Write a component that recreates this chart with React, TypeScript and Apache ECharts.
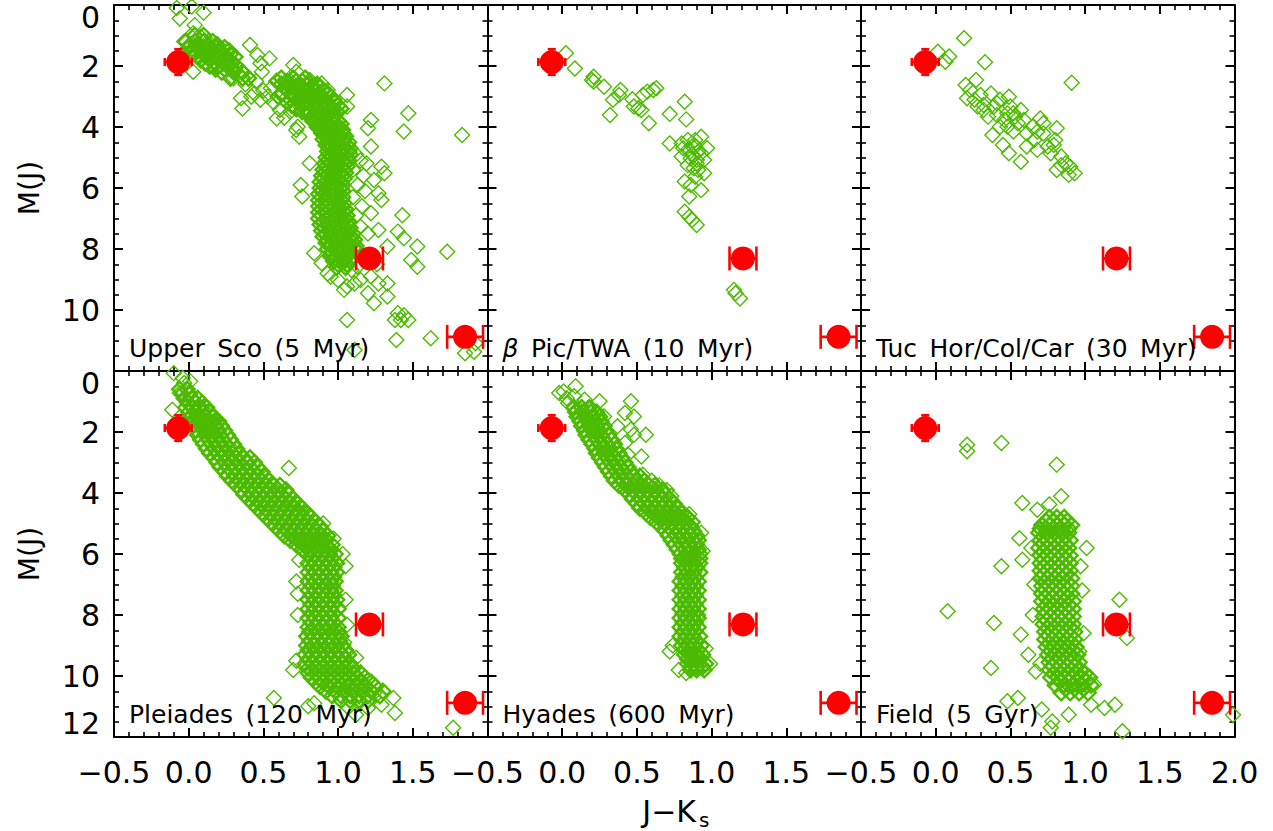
import React, { useEffect, useRef } from "react";
import * as echarts from "echarts";

// ---------------- data ----------------
const panelNames = [
  "Upper Sco (5 Myr)",
  "β Pic/TWA (10 Myr)",
  "Tuc Hor/Col/Car (30 Myr)",
  "Pleiades (120 Myr)",
  "Hyades (600 Myr)",
  "Field (5 Gyr)",
];

// reference objects (red), repeated in every panel
const refX = [-0.07, 1.21, 1.85];
const refY = [1.87, 8.31, 10.88];
const refErrX = [0.09, 0.09, 0.12];
const refErrY = [0.42, 0, 0];

// Upper Sco: scattered members [J-Ks, M(J)]
const upperScoPts = [
  [-0.08, 0.1], [0.02, 0.05], [0.1, 0.25], [-0.06, 0.44], [0.04, 0.66], [0.03, 0.93], [0.08, 1.04], [0.13, 1.2], [0.03, 2.19], [-0.03, 1.2],
  [0.41, 1.31], [0.46, 1.64], [0.54, 1.75], [0.48, 1.91], [0.49, 2.19], [0.35, 3.06], [0.36, 3.39], [0.42, 3.01], [0.48, 3.11], [0.55, 2.73],
  [0.59, 3.72], [0.7, 1.97], [0.72, 2.19], [0.65, 2.51], [0.66, 3.01], [0.61, 3.44], [0.73, 3.99], [0.74, 4.32], [0.81, 2.46], [0.84, 2.68],
  [0.89, 2.57], [0.93, 2.79], [1.06, 2.95], [1.06, 3.33], [1.31, 2.57], [1.47, 3.55], [1.44, 4.15], [1.22, 3.77], [1.2, 4.04], [1.83, 4.26],
  [1.22, 4.64], [1.29, 5.3], [1.31, 5.52], [1.24, 5.74], [1.27, 6.17], [1.29, 6.39], [1.22, 6.83], [1.15, 7.27], [1.2, 7.49], [1.27, 7.38],
  [1.33, 7.92], [1.43, 6.89], [1.4, 7.43], [1.44, 7.65], [1.53, 7.92], [1.49, 8.36], [1.53, 8.58], [1.73, 8.09],
  [0.81, 5.19], [0.75, 5.9], [0.76, 6.28], [0.72, 4.1],
  [0.93, 8.8], [1.0, 9.02], [1.06, 9.23], [1.04, 9.34], [1.11, 9.13], [1.2, 9.45], [1.27, 9.13], [1.33, 9.13], [1.24, 9.78], [1.33, 9.56],
  [1.4, 10.11], [1.44, 10.17], [1.38, 10.33], [1.42, 10.33], [1.47, 10.33], [1.06, 10.33], [1.39, 10.98], [1.62, 10.93], [1.11, 11.31],
  [1.85, 11.42], [1.91, 11.37], [1.92, 11.09],
  [1.09, 8.69], [1.15, 9.02], [1.13, 8.58], [0.95, 8.91], [0.84, 8.14], [0.89, 8.47],
  [1.12, 4.9], [1.15, 5.1], [1.1, 5.4], [1.17, 5.6], [1.13, 5.9], [1.18, 6.1], [1.1, 6.3], [1.16, 6.6], [1.12, 6.9], [1.19, 5.2],
  [1.08, 7.6], [1.12, 8.0], [1.17, 8.3], [1.22, 8.9], [1.26, 8.5],
  [0.38, 2.6], [0.45, 2.5], [0.5, 2.8], [0.53, 3.0], [0.57, 3.2], [0.44, 2.9], [0.3, 2.4], [0.62, 2.9], [0.68, 3.5], [0.64, 3.7],
];
// Upper Sco dense sequence: rows of [M(J), J-Ks, J-Ks, ...]
const upperScoRows = [
  [1.0, 0.04, 0.1], [1.2, -0.02, 0.04, 0.1, 0.16], [1.3, 0.01, 0.07, 0.13, 0.19], [1.4, 0.0, 0.06, 0.12, 0.18, 0.24],
  [1.5, 0.03, 0.09, 0.15, 0.21, 0.27], [1.6, 0.04, 0.1, 0.16, 0.22, 0.28], [1.7, 0.07, 0.13, 0.19, 0.25, 0.31],
  [1.8, 0.08, 0.14, 0.2, 0.26], [1.9, 0.11, 0.17, 0.23, 0.29], [2.0, 0.14, 0.2, 0.26, 0.32], [2.1, 0.18, 0.24, 0.3],
  [2.2, 0.22, 0.3, 0.36], [2.4, 0.28, 0.36, 0.4, 0.62, 0.7, 0.78], [2.5, 0.59, 0.66, 0.72, 0.76],
  [2.6, 0.62, 0.68, 0.74, 0.8, 0.86], [2.7, 0.64, 0.7, 0.76, 0.82, 0.88], [2.8, 0.66, 0.72, 0.78, 0.84, 0.9],
  [2.9, 0.63, 0.69, 0.75, 0.81, 0.87, 0.93], [3.0, 0.6, 0.7, 0.76, 0.82, 0.88, 0.95], [3.1, 0.68, 0.73, 0.79, 0.85, 0.91, 0.97],
  [3.2, 0.66, 0.74, 0.8, 0.86, 0.92, 0.98], [3.3, 0.69, 0.76, 0.82, 0.88, 0.94, 1.0], [3.4, 0.72, 0.78, 0.84, 0.9, 0.96, 1.02],
  [3.5, 0.76, 0.81, 0.87, 0.93, 0.99], [3.6, 0.8, 0.86, 0.92, 0.98], [3.7, 0.84, 0.9, 0.96], [3.8, 0.83, 0.89, 0.95, 1.0],
  [3.9, 0.86, 0.92, 0.97, 1.02], [4.0, 0.86, 0.91, 0.96, 1.01], [4.1, 0.89, 0.94, 0.99, 1.03], [4.2, 0.89, 0.93, 0.98, 1.03],
  [4.3, 0.91, 0.96, 1.01, 1.05], [4.4, 0.9, 0.95, 1.0, 1.04], [4.5, 0.93, 0.98, 1.03, 1.07], [4.6, 0.92, 0.96, 1.01, 1.06],
  [4.7, 0.94, 0.99, 1.04, 1.08], [4.8, 0.93, 0.97, 1.02, 1.07], [4.9, 0.94, 0.99, 1.04, 1.08], [5.0, 0.92, 0.96, 1.01, 1.06],
  [5.1, 0.93, 0.98, 1.03, 1.07], [5.2, 0.91, 0.95, 1.0, 1.05], [5.3, 0.92, 0.97, 1.02, 1.06], [5.4, 0.9, 0.94, 0.99, 1.04],
  [5.5, 0.91, 0.96, 1.01, 1.05], [5.6, 0.89, 0.93, 0.98, 1.03], [5.7, 0.9, 0.95, 1.0, 1.04], [5.8, 0.88, 0.92, 0.97, 1.02],
  [5.9, 0.9, 0.94, 0.99, 1.03], [6.0, 0.88, 0.92, 0.97, 1.02], [6.1, 0.89, 0.94, 0.99, 1.03], [6.2, 0.87, 0.91, 0.96, 1.01],
  [6.3, 0.89, 0.94, 0.99, 1.03], [6.4, 0.87, 0.92, 0.97, 1.02], [6.5, 0.89, 0.94, 0.99, 1.04], [6.6, 0.87, 0.92, 0.97, 1.03],
  [6.7, 0.89, 0.95, 1.0, 1.05], [6.8, 0.87, 0.92, 0.98, 1.04], [6.9, 0.89, 0.95, 1.01, 1.06], [7.0, 0.87, 0.93, 0.99, 1.05],
  [7.1, 0.9, 0.96, 1.02, 1.07], [7.2, 0.88, 0.94, 1.0, 1.06], [7.3, 0.91, 0.97, 1.03, 1.08], [7.4, 0.89, 0.95, 1.01, 1.07],
  [7.5, 0.92, 0.98, 1.04, 1.1], [7.6, 0.9, 0.96, 1.02, 1.09], [7.7, 0.93, 0.99, 1.05, 1.11], [7.8, 0.92, 0.98, 1.04, 1.1],
  [7.9, 0.95, 1.01, 1.07, 1.12], [8.0, 0.93, 0.99, 1.05, 1.11], [8.1, 0.96, 1.02, 1.08], [8.2, 0.95, 1.01, 1.07],
  [8.3, 0.98, 1.04, 1.09], [8.4, 0.97, 1.03, 1.08], [8.5, 1.0, 1.06], [8.6, 0.99, 1.05],
];

// beta Pic / TWA
const betaPicPts = [
  [0.025, 1.58], [0.085, 2.08], [0.21, 2.35], [0.2, 2.46], [0.21, 2.51], [0.28, 2.68], [0.34, 3.11], [0.39, 2.79], [0.38, 2.95],
  [0.32, 3.61], [0.47, 3.09], [0.48, 3.33], [0.51, 3.39], [0.53, 3.44], [0.54, 2.95], [0.57, 2.84], [0.61, 2.79], [0.63, 2.73],
  [0.58, 3.88], [0.72, 3.57], [0.82, 3.17], [0.83, 3.75],
  [0.72, 4.54], [0.8, 4.54], [0.84, 4.43], [0.93, 4.32], [0.89, 4.64], [0.97, 4.7], [0.84, 4.75], [0.93, 4.86], [0.8, 4.97],
  [0.86, 5.03], [0.9, 5.08], [0.95, 5.52], [0.91, 5.41], [0.89, 5.63], [0.82, 5.79], [0.86, 5.9], [0.93, 6.07], [0.85, 6.28],
  [0.87, 4.64], [0.84, 5.25], [0.91, 4.81], [0.81, 4.7], [0.89, 4.43], [0.95, 5.08], [0.87, 4.9], [0.9, 5.2], [0.88, 5.35],
  [0.82, 6.78], [0.85, 6.94], [0.87, 7.05], [0.9, 7.21],
  [1.15, 9.34], [1.19, 9.62], [1.16, 9.45],
];

// Tuc Hor / Columba / Carina
const tucHorPts = [
  [0.014, 1.53], [0.065, 1.86], [0.09, 1.69], [0.19, 1.09], [0.33, 1.88], [0.27, 2.46], [0.91, 2.55],
  [0.2, 2.62], [0.23, 2.79], [0.21, 3.06], [0.26, 3.11], [0.3, 2.95], [0.37, 2.9], [0.32, 3.28], [0.39, 3.33], [0.43, 3.11],
  [0.49, 3.01], [0.5, 3.33], [0.41, 3.61], [0.46, 3.77], [0.48, 3.99], [0.52, 3.55], [0.57, 3.44], [0.55, 3.88], [0.59, 3.77],
  [0.38, 4.26], [0.45, 4.59], [0.49, 4.86], [0.57, 5.14], [0.61, 4.21], [0.66, 4.43], [0.68, 4.75], [0.7, 3.72], [0.72, 3.88],
  [0.79, 4.59], [0.81, 4.04], [0.8, 4.43], [0.84, 4.97], [0.87, 5.19], [0.9, 5.3], [0.93, 5.52], [0.81, 5.41], [0.89, 5.57],
  [0.84, 5.25], [0.41, 3.22], [0.48, 3.55], [0.35, 3.66], [0.52, 4.15], [0.61, 4.64], [0.68, 4.15], [0.75, 4.64], [0.43, 3.99],
  [0.32, 3.44], [0.28, 3.33], [0.53, 3.66], [0.65, 3.99], [0.72, 4.21], [0.77, 4.86],
];

// Pleiades
const pleiadesPts = [
  [-0.1, 0.07], [-0.04, 0.23], [-0.03, 0.39], [0.01, 0.34], [-0.06, 0.72], [-0.11, 1.27], [0.08, 1.21], [0.11, 1.32],
  [0.67, 3.18], [0.72, 6.9], [1.06, 8.32], [0.57, 10.72], [0.84, 10.89], [0.8, 10.99], [1.37, 10.72], [1.38, 11.21],
  [1.77, 11.7], [1.12, 11.27], [1.24, 10.56], [1.29, 10.94], [1.2, 11.05], [1.15, 10.83], [1.06, 10.99],
  [0.3, 2.6], [0.4, 3.0], [0.52, 3.5], [0.6, 4.0], [0.7, 4.4], [0.8, 4.7], [0.9, 5.0], [0.97, 5.5], [1.03, 6.0], [1.05, 6.4],
  [0.74, 6.2], [0.73, 7.3], [0.73, 8.0], [0.72, 9.5], [0.7, 9.8], [1.05, 7.5], [1.04, 8.9], [1.12, 9.4],
];
const pleiadesRows = [
  [0.6, -0.06, -0.01], [0.75, -0.045, 0.005], [0.9, -0.03, 0.02, 0.06], [1.05, -0.005, 0.045, 0.09],
  [1.2, -0.02, 0.03, 0.08, 0.12], [1.35, 0.0, 0.045, 0.095, 0.14], [1.5, 0.01, 0.06, 0.11, 0.16],
  [1.65, 0.02, 0.07, 0.12, 0.17, 0.2], [1.8, 0.03, 0.08, 0.13, 0.18, 0.22], [1.95, 0.05, 0.1, 0.15, 0.2, 0.24],
  [2.1, 0.06, 0.11, 0.16, 0.21, 0.26], [2.25, 0.08, 0.13, 0.18, 0.23, 0.28], [2.4, 0.1, 0.15, 0.2, 0.25, 0.3],
  [2.55, 0.12, 0.17, 0.22, 0.27, 0.32], [2.7, 0.14, 0.19, 0.24, 0.29, 0.34], [2.85, 0.17, 0.22, 0.27, 0.32, 0.37, 0.41],
  [3.0, 0.19, 0.24, 0.29, 0.34, 0.39, 0.44], [3.15, 0.21, 0.26, 0.31, 0.36, 0.41, 0.46],
  [3.3, 0.24, 0.29, 0.34, 0.39, 0.44, 0.49], [3.45, 0.26, 0.31, 0.36, 0.41, 0.46, 0.51],
  [3.6, 0.29, 0.34, 0.39, 0.44, 0.49, 0.54], [3.75, 0.32, 0.37, 0.42, 0.47, 0.52, 0.57, 0.61],
  [3.9, 0.35, 0.4, 0.45, 0.5, 0.55, 0.6, 0.65], [4.05, 0.37, 0.42, 0.47, 0.52, 0.57, 0.62, 0.67],
  [4.2, 0.4, 0.45, 0.5, 0.55, 0.6, 0.65, 0.7], [4.35, 0.43, 0.48, 0.53, 0.58, 0.63, 0.68, 0.73],
  [4.5, 0.46, 0.51, 0.56, 0.61, 0.66, 0.71, 0.76], [4.65, 0.49, 0.54, 0.59, 0.64, 0.69, 0.74, 0.79],
  [4.8, 0.52, 0.57, 0.62, 0.67, 0.72, 0.77, 0.82], [4.95, 0.55, 0.6, 0.65, 0.7, 0.75, 0.8, 0.85],
  [5.1, 0.58, 0.63, 0.68, 0.73, 0.78, 0.83, 0.88], [5.25, 0.61, 0.66, 0.71, 0.76, 0.81, 0.86, 0.9],
  [5.4, 0.64, 0.69, 0.74, 0.79, 0.84, 0.89, 0.93], [5.55, 0.68, 0.73, 0.78, 0.83, 0.88, 0.92],
  [5.7, 0.72, 0.77, 0.82, 0.87, 0.92, 0.96], [5.85, 0.76, 0.81, 0.86, 0.91, 0.95],
  [6.0, 0.79, 0.84, 0.89, 0.94, 0.98], [6.15, 0.82, 0.87, 0.92, 0.96], [6.3, 0.8, 0.85, 0.9, 0.95, 0.99],
  [6.45, 0.82, 0.87, 0.92, 0.97], [6.6, 0.8, 0.85, 0.9, 0.95, 0.99], [6.75, 0.82, 0.87, 0.92, 0.97],
  [6.9, 0.8, 0.85, 0.9, 0.95, 0.98], [7.05, 0.82, 0.87, 0.92, 0.96], [7.2, 0.8, 0.85, 0.9, 0.95, 0.98],
  [7.35, 0.82, 0.87, 0.92, 0.97], [7.5, 0.8, 0.85, 0.9, 0.95, 0.99], [7.65, 0.82, 0.87, 0.92, 0.97],
  [7.8, 0.8, 0.85, 0.9, 0.95, 1.0], [7.95, 0.82, 0.87, 0.92, 0.97], [8.1, 0.8, 0.85, 0.9, 0.95, 1.0],
  [8.25, 0.82, 0.87, 0.92, 0.97], [8.4, 0.8, 0.85, 0.9, 0.95, 1.0], [8.55, 0.81, 0.86, 0.91, 0.96, 1.0],
  [8.7, 0.79, 0.84, 0.89, 0.94, 0.99, 1.02], [8.85, 0.81, 0.86, 0.91, 0.96, 1.01],
  [9.0, 0.79, 0.84, 0.89, 0.94, 0.99, 1.03], [9.15, 0.8, 0.85, 0.9, 0.95, 1.0, 1.05],
  [9.3, 0.78, 0.83, 0.88, 0.93, 0.98, 1.03, 1.07], [9.45, 0.8, 0.85, 0.9, 0.95, 1.0, 1.05],
  [9.6, 0.78, 0.83, 0.88, 0.93, 0.98, 1.03, 1.08], [9.75, 0.8, 0.85, 0.9, 0.95, 1.0, 1.05, 1.1],
  [9.9, 0.8, 0.85, 0.9, 0.95, 1.0, 1.05, 1.1, 1.15], [10.05, 0.82, 0.87, 0.92, 0.97, 1.02, 1.07, 1.13, 1.18],
  [10.2, 0.85, 0.9, 0.95, 1.0, 1.05, 1.1, 1.16, 1.22], [10.35, 0.88, 0.94, 1.0, 1.06, 1.12, 1.18, 1.25],
  [10.5, 0.92, 0.98, 1.04, 1.1, 1.16, 1.22, 1.3], [10.65, 0.96, 1.02, 1.08, 1.14, 1.2, 1.28],
  [10.8, 1.02, 1.08, 1.14, 1.2],
];

// Hyades
const hyadesPts = [
  [0.01, 0.67], [-0.02, 0.72], [0.03, 0.89], [0.09, 0.5], [0.08, 0.83], [0.04, 1.05], [0.15, 0.94], [0.25, 0.99], [0.24, 1.43], [0.28, 1.49],
  [0.46, 0.99], [0.42, 1.38], [0.48, 1.49], [0.37, 1.81], [0.46, 1.92], [0.48, 2.09], [0.56, 2.09], [0.42, 2.36], [0.44, 2.74],
  [0.53, 2.8], [0.54, 3.4], [0.47, 3.4], [0.6, 3.6], [0.65, 3.75], [0.7, 3.9], [0.73, 4.1], [0.78, 4.5], [0.85, 4.7], [0.93, 5.3],
  [0.94, 5.9], [0.92, 6.6], [0.91, 8.0], [0.96, 9.1], [0.99, 9.6], [0.74, 9.0], [0.72, 9.2], [0.78, 9.8], [0.83, 9.9],
];
const hyadesRows = [
  [1.2, 0.08, 0.13, 0.18], [1.35, 0.09, 0.14, 0.19, 0.23], [1.5, 0.1, 0.15, 0.2, 0.25], [1.65, 0.12, 0.17, 0.22, 0.26],
  [1.8, 0.13, 0.18, 0.23, 0.28], [1.95, 0.15, 0.2, 0.25, 0.29], [2.1, 0.16, 0.21, 0.26, 0.31], [2.25, 0.18, 0.23, 0.28, 0.33],
  [2.4, 0.2, 0.25, 0.3, 0.35], [2.55, 0.22, 0.27, 0.32, 0.36], [2.7, 0.23, 0.28, 0.33, 0.38], [2.85, 0.25, 0.3, 0.35, 0.4],
  [3.0, 0.27, 0.32, 0.37, 0.42], [3.15, 0.29, 0.34, 0.39, 0.44], [3.3, 0.31, 0.36, 0.41, 0.46], [3.45, 0.33, 0.38, 0.43, 0.48, 0.52],
  [3.6, 0.35, 0.4, 0.45, 0.5, 0.55], [3.75, 0.38, 0.43, 0.48, 0.53, 0.58, 0.62], [3.9, 0.42, 0.47, 0.52, 0.57, 0.62, 0.67],
  [4.05, 0.45, 0.5, 0.55, 0.6, 0.65, 0.69], [4.2, 0.47, 0.52, 0.57, 0.62, 0.67, 0.72], [4.35, 0.5, 0.55, 0.6, 0.65, 0.7, 0.75],
  [4.5, 0.52, 0.57, 0.62, 0.67, 0.72, 0.77], [4.65, 0.56, 0.61, 0.66, 0.71, 0.76, 0.8], [4.8, 0.59, 0.64, 0.69, 0.74, 0.79, 0.84],
  [4.95, 0.63, 0.68, 0.73, 0.78, 0.83, 0.87], [5.1, 0.66, 0.71, 0.76, 0.81, 0.86], [5.25, 0.69, 0.74, 0.79, 0.84, 0.88],
  [5.4, 0.71, 0.76, 0.81, 0.86, 0.9], [5.55, 0.73, 0.78, 0.83, 0.88, 0.91], [5.7, 0.75, 0.8, 0.85, 0.9],
  [5.85, 0.77, 0.82, 0.87, 0.91], [6.0, 0.79, 0.84, 0.88, 0.92], [6.15, 0.8, 0.84, 0.88, 0.92], [6.3, 0.8, 0.84, 0.88, 0.92],
  [6.45, 0.82, 0.86, 0.9], [6.6, 0.8, 0.84, 0.88, 0.92], [6.75, 0.81, 0.85, 0.89], [6.9, 0.79, 0.83, 0.87, 0.91],
  [7.05, 0.81, 0.85, 0.89], [7.2, 0.79, 0.83, 0.87, 0.91], [7.35, 0.81, 0.85, 0.89], [7.5, 0.79, 0.83, 0.87, 0.91],
  [7.65, 0.81, 0.85, 0.89], [7.8, 0.79, 0.83, 0.87, 0.91], [7.95, 0.81, 0.85, 0.89], [8.1, 0.79, 0.83, 0.87, 0.91],
  [8.25, 0.81, 0.85, 0.89], [8.4, 0.79, 0.83, 0.87, 0.91], [8.55, 0.81, 0.85, 0.89], [8.7, 0.79, 0.83, 0.87, 0.92],
  [8.85, 0.81, 0.86, 0.9], [9.0, 0.8, 0.84, 0.88, 0.93], [9.15, 0.82, 0.86, 0.91], [9.3, 0.82, 0.86, 0.9, 0.94],
  [9.45, 0.84, 0.88, 0.92], [9.6, 0.84, 0.88, 0.92, 0.96], [9.7, 0.86, 0.9, 0.94], [9.8, 0.86, 0.9, 0.95],
];

// Field
const fieldPts = [
  [0.21, 2.42], [0.21, 2.63], [0.44, 2.36], [0.81, 3.07], [0.58, 4.33], [0.84, 4.11], [0.68, 4.55], [0.76, 4.38], [0.56, 5.48],
  [0.64, 5.8], [0.58, 6.19], [0.44, 6.4], [1.01, 5.8], [0.08, 7.88], [0.39, 8.26], [0.57, 8.64], [0.62, 9.3], [0.37, 9.74],
  [0.67, 9.85], [1.23, 7.5], [1.28, 8.75], [0.55, 10.72], [0.48, 10.83], [0.71, 11.1], [0.89, 11.27], [0.78, 11.49], [0.77, 11.7],
  [1.25, 11.81], [1.06, 10.28], [1.2, 10.94], [1.13, 11.05], [1.04, 10.94], [1.99, 11.27], [0.97, 6.4], [0.98, 7.2], [0.66, 7.0],
  [0.65, 8.0], [0.99, 8.6], [0.96, 9.2], [0.7, 9.6],
];
const fieldRows = [
  [4.8, 0.76, 0.81, 0.86], [4.92, 0.74, 0.79, 0.84, 0.88], [5.05, 0.71, 0.76, 0.81, 0.86, 0.91], [5.17, 0.7, 0.74, 0.79, 0.84, 0.89],
  [5.3, 0.69, 0.74, 0.79, 0.84, 0.89], [5.42, 0.72, 0.77, 0.82, 0.87], [5.55, 0.7, 0.75, 0.8, 0.85, 0.9], [5.67, 0.72, 0.77, 0.82, 0.87],
  [5.8, 0.69, 0.74, 0.79, 0.84, 0.89], [5.92, 0.72, 0.77, 0.82, 0.87], [6.05, 0.7, 0.75, 0.8, 0.85, 0.9], [6.17, 0.72, 0.77, 0.82, 0.87],
  [6.3, 0.7, 0.75, 0.8, 0.85, 0.9], [6.42, 0.72, 0.77, 0.82, 0.87], [6.55, 0.7, 0.75, 0.8, 0.85, 0.9], [6.67, 0.72, 0.77, 0.82, 0.87],
  [6.8, 0.7, 0.75, 0.8, 0.85, 0.91], [6.92, 0.73, 0.78, 0.83, 0.88], [7.05, 0.71, 0.76, 0.81, 0.86, 0.91], [7.17, 0.73, 0.78, 0.83, 0.88],
  [7.3, 0.71, 0.76, 0.81, 0.86, 0.91], [7.42, 0.73, 0.78, 0.83, 0.88], [7.55, 0.71, 0.76, 0.81, 0.86, 0.92], [7.67, 0.74, 0.79, 0.84, 0.89],
  [7.8, 0.72, 0.77, 0.82, 0.87, 0.92], [7.92, 0.74, 0.79, 0.84, 0.89], [8.05, 0.72, 0.77, 0.82, 0.87, 0.92], [8.17, 0.74, 0.79, 0.84, 0.89],
  [8.3, 0.72, 0.77, 0.82, 0.87, 0.92], [8.42, 0.75, 0.8, 0.85, 0.9], [8.55, 0.73, 0.78, 0.83, 0.88, 0.93], [8.67, 0.75, 0.8, 0.85, 0.9],
  [8.8, 0.73, 0.78, 0.83, 0.88, 0.93], [8.92, 0.76, 0.81, 0.86, 0.91], [9.05, 0.74, 0.79, 0.84, 0.89, 0.94], [9.17, 0.77, 0.82, 0.87, 0.92],
  [9.3, 0.75, 0.8, 0.85, 0.9, 0.95], [9.42, 0.78, 0.83, 0.88, 0.93], [9.55, 0.76, 0.81, 0.86, 0.91, 0.96], [9.67, 0.78, 0.83, 0.88, 0.93],
  [9.8, 0.76, 0.81, 0.86, 0.91, 0.97], [9.92, 0.79, 0.84, 0.89, 0.94, 1.0], [10.05, 0.77, 0.82, 0.87, 0.92, 0.98, 1.03],
  [10.17, 0.83, 0.89, 0.95, 1.01], [10.3, 0.8, 0.86, 0.92, 0.98, 1.04], [10.42, 0.87, 0.93, 0.99], [10.55, 0.84, 0.9, 0.96, 1.02],
];

// ---------------- styles / layout ----------------
const FONT = "DejaVu Sans";
const GREEN = "#4cbb00";
const RED = "#ff0000";
const GRID_LEFT = [114, 487.5, 861];
const GRID_TOP = [5, 371];
const GRID_W = 373.5;
const GRID_H = 366;
const capHalf = [4, 12, 12];

const rowsToPts = (rows: number[][]) =>
  rows.flatMap((r) => r.slice(1).map((x) => [x, r[0]]));

const sparseData = [upperScoPts, betaPicPts, tucHorPts, pleiadesPts, hyadesPts, fieldPts];
const denseData = [
  rowsToPts(upperScoRows),
  [],
  [],
  rowsToPts(pleiadesRows),
  rowsToPts(hyadesRows),
  rowsToPts(fieldRows),
];

const fmtX = (v: number) => {
  const s = (Math.round(v * 10) / 10).toFixed(1);
  return s.replace("-", "\u2212");
};

const spaced = (s: string) => s.replace(/ /g, "\u2002");

function buildOption() {
  const grid: any[] = [];
  const xAxis: any[] = [];
  const yAxis: any[] = [];
  const series: any[] = [];
  const graphic: any[] = [];
  const axisLine = { show: true, onZero: false, lineStyle: { color: "#000", width: 2 } };
  const axisTick = { show: true, inside: true, length: 9, lineStyle: { color: "#000", width: 2 } };
  const splitLine = { show: false };

  panelNames.forEach((name, i) => {
    const col = i % 3;
    const row = Math.floor(i / 3);
    grid.push({ left: GRID_LEFT[col], top: GRID_TOP[row], width: GRID_W, height: GRID_H });
    const xBase = {
      gridIndex: i, type: "value", min: -0.5, max: 2.0, interval: 0.5,
      axisLine, axisTick, splitLine,
      minorTick: { show: true, splitNumber: 5, length: 5, lineStyle: { color: "#000", width: 1.6 } },
      minorSplitLine: { show: false },
    };
    xAxis.push({
      ...xBase, position: "bottom",
      axisLabel: {
        show: row === 1, fontSize: 30, fontFamily: FONT, color: "#000", margin: 20,
        showMinLabel: true, showMaxLabel: true,
        formatter: (v: number) => (col < 2 && v > 1.9 ? "" : fmtX(v)),
      },
    });
    xAxis.push({ ...xBase, position: "top", axisLabel: { show: false } });
    const yBase = {
      gridIndex: i, type: "value", min: 0, max: 12, interval: 2, inverse: true,
      axisLine, axisTick, splitLine,
      minorTick: { show: true, splitNumber: 4, length: 5, lineStyle: { color: "#000", width: 1.6 } },
      minorSplitLine: { show: false },
    };
    yAxis.push({
      ...yBase, position: "left",
      axisLabel: {
        show: col === 0, fontSize: 30, fontFamily: FONT, color: "#000", margin: 14,
        showMinLabel: true, showMaxLabel: true,
        formatter: (v: number) => {
          if (v === 0) return "{t|0}";
          if (v === 12) return row === 0 ? "" : "{b|12}";
          return String(v);
        },
        rich: {
          t: { fontSize: 30, fontFamily: FONT, color: "#000", padding: [24, 0, 0, 0] },
          b: { fontSize: 30, fontFamily: FONT, color: "#000", padding: [0, 0, 28, 0] },
        },
      },
    });
    yAxis.push({ ...yBase, position: "right", axisLabel: { show: false } });

    series.push({
      type: "scatter", xAxisIndex: 2 * i, yAxisIndex: 2 * i,
      symbol: "diamond", symbolSize: 15, z: 2,
      itemStyle: { color: "rgba(0,0,0,0)", borderColor: GREEN, borderWidth: 1.4, opacity: 1 },
      data: sparseData[i],
      silent: true,
    });
    if (denseData[i].length) {
      series.push({
        type: "scatter", xAxisIndex: 2 * i, yAxisIndex: 2 * i,
        symbol: "diamond", symbolSize: 15, z: 2,
        itemStyle: { color: "rgba(0,0,0,0)", borderColor: GREEN, borderWidth: 2.4, opacity: 1 },
        data: denseData[i],
        silent: true,
      });
    }
    series.push({
      type: "custom", xAxisIndex: 2 * i, yAxisIndex: 2 * i, z: 3, silent: true,
      data: refX.map((x, k) => [x, refY[k], refErrX[k], refErrY[k]]),
      renderItem: (params: any, api: any) => {
        const x = api.value(0), y = api.value(1), ex = api.value(2), ey = api.value(3);
        const c = capHalf[params.dataIndex];
        const st = { stroke: RED, lineWidth: 2.6 };
        const l = api.coord([x - ex, y]);
        const r = api.coord([x + ex, y]);
        const children: any[] = [
          { type: "line", shape: { x1: l[0], y1: l[1], x2: r[0], y2: r[1] }, style: st },
          { type: "line", shape: { x1: l[0], y1: l[1] - c, x2: l[0], y2: l[1] + c }, style: st },
          { type: "line", shape: { x1: r[0], y1: r[1] - c, x2: r[0], y2: r[1] + c }, style: st },
        ];
        if (ey > 0) {
          const t = api.coord([x, y - ey]);
          const b = api.coord([x, y + ey]);
          children.push(
            { type: "line", shape: { x1: t[0], y1: t[1], x2: b[0], y2: b[1] }, style: st },
            { type: "line", shape: { x1: t[0] - c, y1: t[1], x2: t[0] + c, y2: t[1] }, style: st },
            { type: "line", shape: { x1: b[0] - c, y1: b[1], x2: b[0] + c, y2: b[1] }, style: st },
          );
        }
        return { type: "group", children };
      },
    });
    series.push({
      type: "scatter", xAxisIndex: 2 * i, yAxisIndex: 2 * i,
      symbol: "circle", symbolSize: 24, z: 4, silent: true,
      itemStyle: { color: RED, opacity: 1 },
      data: refX.map((x, k) => [x, refY[k]]),
    });

    const isBeta = name.startsWith("β");
    graphic.push({
      type: "text",
      x: GRID_LEFT[col] + 15,
      y: GRID_TOP[row] + 343,
      style: {
        text: isBeta ? "{g|β}" + spaced(name.slice(1)) : spaced(name),
        fontSize: 25, fontFamily: FONT, fill: "#000",
        verticalAlign: "middle", align: "left",
        rich: isBeta ? { g: { fontSize: 25, fontFamily: FONT, fontStyle: "italic", fill: "#000" } } : undefined,
      },
      z: 10,
    });
  });

  // axis titles
  [188, 554].forEach((cy) => {
    graphic.push({
      type: "text", x: 29, y: cy, rotation: Math.PI / 2,
      style: { text: "M(J)", fontSize: 28, fontFamily: FONT, fill: "#000", align: "center", verticalAlign: "middle" },
    });
  });
  graphic.push({
    type: "text", x: 696, y: 811,
    style: { text: "J\u2212K", fontSize: 30, fontFamily: FONT, fill: "#000", align: "right", verticalAlign: "middle" },
  });
  graphic.push({
    type: "text", x: 699, y: 820,
    style: { text: "s", fontSize: 20, fontFamily: FONT, fill: "#000", align: "left", verticalAlign: "middle" },
  });

  return { animation: false, backgroundColor: "#fff", grid, xAxis, yAxis, series, graphic };
}

export default function App() {
  const ref = useRef<HTMLDivElement>(null);
  useEffect(() => {
    document.body.style.margin = "0";
    if (!ref.current) return;
    const chart = echarts.init(ref.current, undefined, { renderer: "svg" });
    chart.setOption(buildOption() as any);
    return () => chart.dispose();
  }, []);
  return <div ref={ref} style={{ width: 1273, height: 831 }} />;
}
